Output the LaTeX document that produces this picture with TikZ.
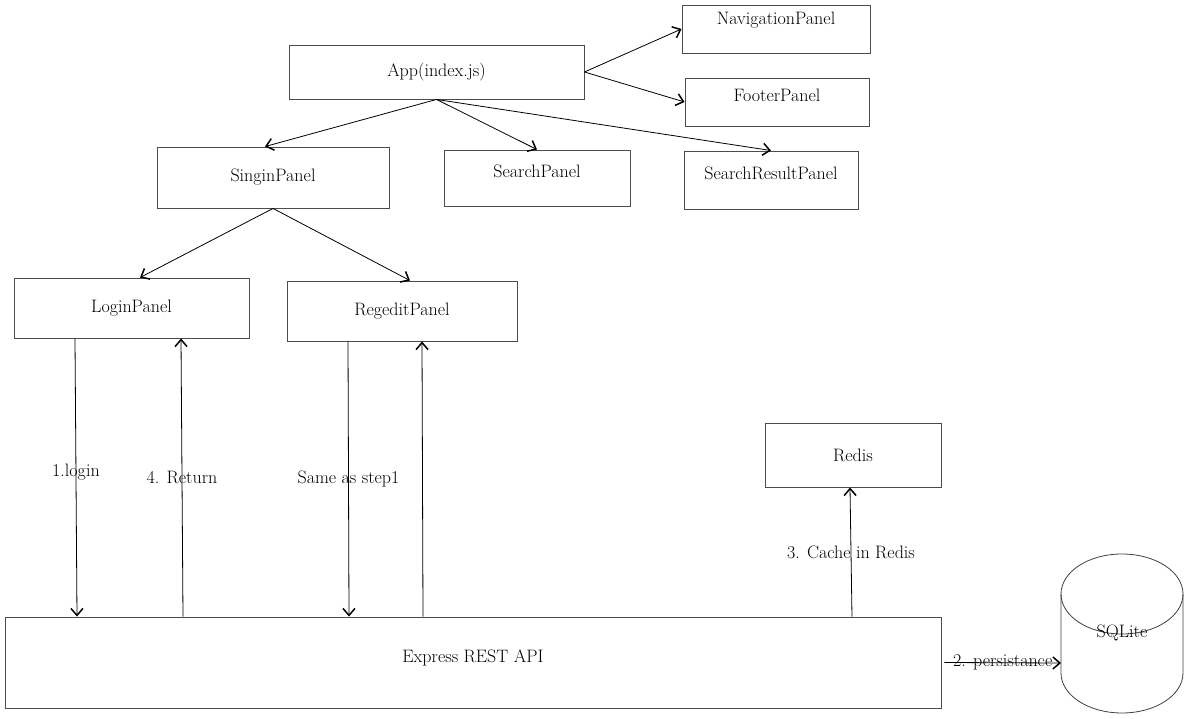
\documentclass[tikz,border=0pt]{standalone}
\usepackage{fontspec}
\usetikzlibrary{arrows.meta,calc}
\begin{document}
\begin{tikzpicture}[x=1pt,y=-1pt,
  font=\fontsize{18}{21}\selectfont,
  box/.style={draw=black!70, line width=0.9pt, rectangle, inner sep=0pt},
  conn/.style={draw=black, line width=0.8pt, -{Straight Barb[length=7pt,width=12pt,line width=1.5pt]}},
  lbl/.style={inner sep=1pt}]
\useasboundingbox (0,0) rectangle (1187,719);

\node[box, minimum width=188, minimum height=48, label={[yshift=9]center:NavigationPanel}] (nav) at (776,29) {};
\node[box, minimum width=295, minimum height=54, label={[yshift=0]center:App(index.js)}] (app) at (436.5,72) {};
\node[box, minimum width=184, minimum height=48, label={[yshift=7]center:FooterPanel}] (footer) at (777,102) {};
\node[box, minimum width=232, minimum height=61, label={[yshift=0]center:SinginPanel}] (signin) at (273,177.5) {};
\node[box, minimum width=186, minimum height=56, label={[yshift=7]center:SearchPanel}] (search) at (537,178) {};
\node[box, minimum width=174, minimum height=58, label={[yshift=7]center:SearchResultPanel}] (result) at (771,180) {};
\node[box, minimum width=235, minimum height=60, label={[yshift=0]center:LoginPanel}] (login) at (131.5,308) {};
\node[box, minimum width=230, minimum height=60, label={[yshift=0]center:RegeditPanel}] (regedit) at (402,311) {};
\node[box, minimum width=176, minimum height=64, label={[yshift=0]center:Redis}] (redis) at (853,455) {};
\node[box, minimum width=936, minimum height=91, label={[yshift=5]center:Express REST API}] (express) at (473,662.5) {};

% SQLite cylinder
\draw[black!75, line width=0.8pt] (1061,594) -- (1061,673) arc (180:0:61 and 40) -- (1183,594);
\draw[black!75, line width=0.8pt] (1122,594) ellipse (61 and 40);
\coordinate (sqlin) at (1061,663);
\node[lbl] (sqlite) at (1122,633) {SQLite};

% connectors
\draw[conn] (app.east) -- (nav.west);
\draw[conn] (app.east) -- (footer.west);
\draw[conn] (app.south) -- ([xshift=-8]signin.north);
\draw[conn] (app.south) -- (search.north);
\draw[conn] (app.south) -- (result.north);
\draw[conn] (signin.south) -- ([xshift=8.5]login.north);
\draw[conn] (signin.south) -- ([xshift=8]regedit.north);

\draw[conn] ([xshift=-56.5]login.south) -- node[lbl,pos=0.48] {1.login} ([xshift=-396]express.north);
\draw[conn] ([xshift=-290]express.north) -- node[lbl,pos=0.5] {4. Return} ([xshift=49.5]login.south);
\draw[conn] ([xshift=-54]regedit.south) -- node[lbl,pos=0.5] {Same as step1} ([xshift=-124]express.north);
\draw[conn] ([xshift=-50]express.north) -- ([xshift=20]regedit.south);
\draw[conn] ([xshift=379]express.north) -- node[lbl,pos=0.5] {3. Cache in Redis} ([xshift=-3]redis.south);
\draw[conn] ([xshift=3]express.east) -- node[lbl,pos=0.5] {2. persistance} (sqlin);
\end{tikzpicture}
\end{document}
